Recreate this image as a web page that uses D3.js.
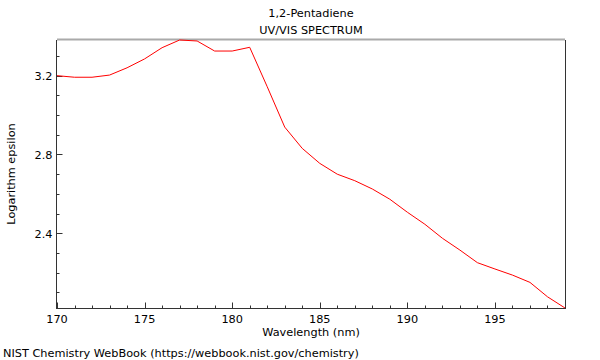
<!DOCTYPE html>
<html><head><meta charset="utf-8">
<script src="https://cdn.jsdelivr.net/npm/d3@7"></script>
<style>body{margin:0;background:#fff}svg{display:block}text{font-family:"DejaVu Sans",sans-serif;fill:#000}</style>
</head><body><svg id="c" width="600" height="360"></svg>
<script>
const wavelengths = [170,171,172,173,174,175,176,177,178,179,180,181,182,183,184,185,186,187,188,189,190,191,192,193,194,195,196,197,198,199];
const logEpsilon = [3.200,3.192,3.192,3.203,3.240,3.285,3.342,3.381,3.376,3.325,3.325,3.344,3.144,2.939,2.831,2.755,2.700,2.667,2.625,2.573,2.507,2.446,2.375,2.315,2.251,2.219,2.188,2.151,2.078,2.021];
const xTicks = [170,175,180,185,190,195];
const yTicks = [2.4,2.8,3.2];
const title1 = "1,2-Pentadiene", title2 = "UV/VIS SPECTRUM";

const FS = 11.3;
const svg = d3.select("#c");
const L=57,R=565,T=40,B=308;
const x = d3.scaleLinear().domain([170,199]).range([L,R]);
const y = d3.scaleLinear().domain(d3.extent(logEpsilon)).range([B,T]);

// frame
svg.append("line").attr("x1",L).attr("x2",R).attr("y1",T-0.5).attr("y2",T-0.5).attr("stroke","#aaa").attr("stroke-width",2);
svg.append("line").attr("x1",R+0.5).attr("x2",R+0.5).attr("y1",T).attr("y2",B).attr("stroke","#333");

// x axis
const xMinor = d3.range(170,200,1);
const gx = svg.append("g").attr("transform",`translate(0,${B+0.5})`);
gx.append("line").attr("x1",L).attr("x2",R+1).attr("stroke","#333");
gx.selectAll("line.mn").data(xMinor).join("line").attr("class","mn")
  .attr("x1",d=>Math.round(x(d))+0.5).attr("x2",d=>Math.round(x(d))+0.5)
  .attr("y1",0).attr("y2",d=>xTicks.includes(d)?-6:-3).attr("stroke","#333");
gx.selectAll("text").data(xTicks).join("text").attr("x",d=>x(d)).attr("y",14)
  .attr("text-anchor","middle").attr("font-size",FS).text(d=>d);

// y axis
const yMinor = d3.range(21,34).map(v=>v/10);
const gy = svg.append("g").attr("transform",`translate(${L-0.5},0)`);
gy.append("line").attr("y1",T).attr("y2",B+1).attr("stroke","#333");
gy.selectAll("line.mn").data(yMinor).join("line").attr("class","mn")
  .attr("y1",d=>Math.round(y(d))+0.5).attr("y2",d=>Math.round(y(d))+0.5)
  .attr("x1",0).attr("x2",d=>yTicks.some(t=>Math.abs(t-d)<1e-6)?6:3).attr("stroke","#333");
gy.selectAll("text").data(yTicks).join("text").attr("x",-4).attr("y",d=>y(d)+4.2)
  .attr("text-anchor","end").attr("font-size",FS).text(d=>d.toFixed(1));

// line
svg.append("path").datum(wavelengths.map((w,i)=>[w,logEpsilon[i]]))
  .attr("d",d3.line().x(d=>x(d[0])).y(d=>y(d[1])))
  .attr("fill","none").attr("stroke","#ff0000").attr("stroke-width",1);

// titles
svg.append("text").attr("x",(L+R)/2).attr("y",17).attr("text-anchor","middle").attr("font-size",FS).text(title1);
svg.append("text").attr("x",(L+R)/2).attr("y",34).attr("text-anchor","middle").attr("font-size",FS).text(title2);
svg.append("text").attr("x",(L+R)/2).attr("y",336).attr("text-anchor","middle").attr("font-size",FS).text("Wavelength (nm)");
svg.append("text").attr("transform",`translate(15,${(T+B)/2}) rotate(-90)`).attr("text-anchor","middle").attr("font-size",FS).text("Logarithm epsilon");
svg.append("text").attr("x",3).attr("y",357).attr("font-size",FS).text("NIST Chemistry WebBook (https://webbook.nist.gov/chemistry)");
</script></body></html>
